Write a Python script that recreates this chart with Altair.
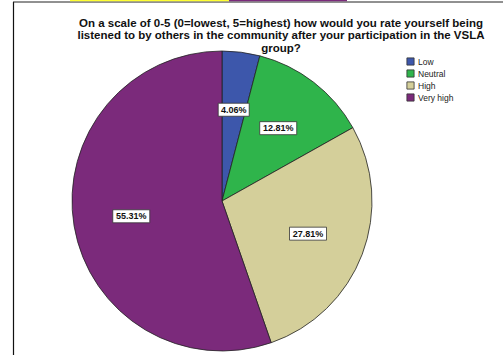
import altair as alt
import pandas as pd

categories = ["Low", "Neutral", "High", "Very high"]
percentages = [4.06, 12.81, 27.81, 55.31]
colors = ["#3d57ab", "#2fb44b", "#d4cf9a", "#7b2a7b"]
title_lines = [
    "On a scale of 0-5 (0=lowest, 5=highest) how would you rate yourself being",
    "listened to by others in the community after your participation in the VSLA",
    "group?",
]

df = pd.DataFrame({"category": categories, "value": percentages, "order": list(range(len(categories)))})

CX, CY, R, LR = 222, 201, 150, 92
FONT = "Liberation Sans"

color_scale = alt.Scale(domain=categories, range=colors)

base = alt.Chart(df)

pie = base.mark_arc(outerRadius=R, stroke="#222222", strokeWidth=0.8).encode(
    theta=alt.Theta("value:Q", stack=True),
    order=alt.Order("order:Q"),
    x=alt.value(CX),
    y=alt.value(CY),
    color=alt.Color(
        "category:N",
        scale=color_scale,
        sort=categories,
        legend=alt.Legend(
            title=None,
            orient="none",
            legendX=406,
            legendY=57,
            symbolType="square",
            symbolSize=52,
            symbolStrokeColor="#333333",
            symbolStrokeWidth=0.8,
            labelFont=FONT,
            labelFontSize=8.5,
            labelColor="#222222",
            labelOffset=3,
            rowPadding=1,
        ),
    ),
)

lab = base.transform_window(
    cum="sum(value)", sort=[alt.SortField("order")], frame=[None, 0]
).transform_joinaggregate(
    total="sum(value)"
).transform_calculate(
    mid="(datum.cum - datum.value/2) / datum.total * 2 * PI",
    label="format(datum.value, '.2f') + '%'",
).transform_calculate(
    lx=f"{CX} + {LR} * sin(datum.mid)",
    ly=f"{CY} - {LR} * cos(datum.mid)",
    hw="(6 * length(datum.label) + 1) / 2",
).transform_calculate(
    x1="datum.lx - datum.hw",
    x2="datum.lx + datum.hw",
    y1="datum.ly - 6.5",
    y2="datum.ly + 6.5",
)

boxes = lab.mark_rect(fill="white", stroke="#333333", strokeWidth=0.8).encode(
    x=alt.X("x1:Q", scale=None, axis=None),
    x2="x2:Q",
    y=alt.Y("y1:Q", scale=None, axis=None),
    y2="y2:Q",
)

texts = lab.mark_text(font=FONT, fontSize=9, fontWeight="bold", color="#111111", baseline="middle").encode(
    x=alt.X("lx:Q", scale=None, axis=None),
    y=alt.Y("ly:Q", scale=None, axis=None),
    text="label:N",
)

dummy = alt.Chart(pd.DataFrame({"a": [0]}))

title = dummy.mark_text(
    font=FONT, fontSize=11.5, fontWeight="bold", color="#111111",
    lineHeight=12.4, baseline="top", align="center",
).encode(x=alt.value(281), y=alt.value(18), text=alt.value(title_lines))

frame_v = dummy.mark_rule(color="#111111", strokeWidth=1.2).encode(
    x=alt.value(13.5), y=alt.value(2), y2=alt.value(355))
frame_h = dummy.mark_rule(color="#222222", strokeWidth=1).encode(
    x=alt.value(13), x2=alt.value(503), y=alt.value(2))
strip_y = dummy.mark_rule(color="#ffff33", strokeWidth=1.5).encode(
    x=alt.value(70), x2=alt.value(229), y=alt.value(0.6))
strip_p = dummy.mark_rule(color="#7b2a7b", strokeWidth=1.5).encode(
    x=alt.value(229), x2=alt.value(347), y=alt.value(0.6))

chart = alt.layer(pie, boxes, texts, title, frame_v, frame_h, strip_y, strip_p).properties(
    width=503, height=355,
    autosize=alt.AutoSizeParams(type="none"),
    padding=0,
    background="white",
).configure_view(stroke=None)

chart.save("out.html", embed_options={"renderer": "svg", "actions": False})
